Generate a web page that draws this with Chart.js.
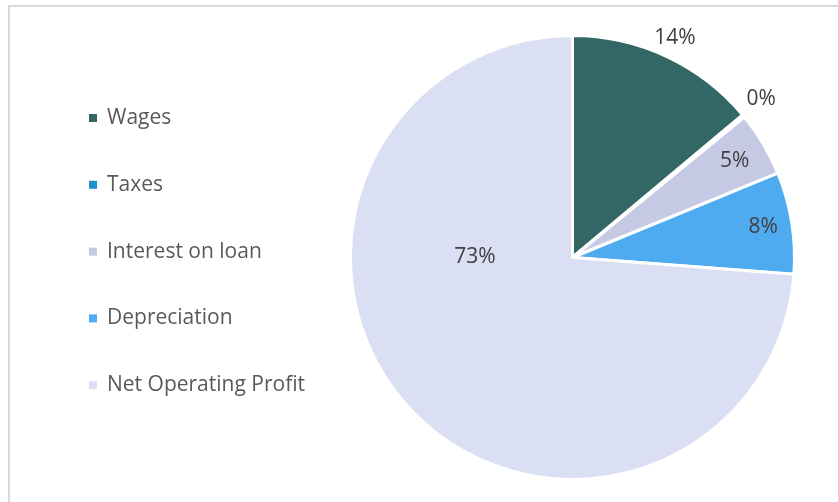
<!DOCTYPE html>
<html>
<head>
<meta charset="utf-8">
<script src="https://cdn.jsdelivr.net/npm/chart.js@4.4.1/dist/chart.umd.min.js"></script>
<style>
  html, body { margin: 0; padding: 0; background: #ffffff; }
  #wrap { position: relative; width: 838px; height: 502px; overflow: hidden; }
  #frame { position: absolute; left: 8px; top: 5px; width: 840px; height: 510px;
           border-left: 2px solid #d9d9d9; border-top: 2px solid #d9d9d9; box-sizing: border-box; }
  canvas { position: absolute; left: 0; top: 0; }
</style>
</head>
<body>
<div id="wrap">
  <div id="frame"></div>
  <canvas id="c" width="838" height="502"></canvas>
</div>
<script>
const categories = ["Wages", "Taxes", "Interest on loan", "Depreciation", "Net Operating Profit"];
const values = [13.9, 0.2, 4.7, 7.4, 73.8];
const percentLabels = ["14%", "0%", "5%", "8%", "73%"];
const colors = ["#336766", "#1f8fcf", "#c6c9e4", "#4eabf0", "#dbdff3"];

// label placement: radius factor and optional absolute angle (deg clockwise from top)
const labelPlacement = [
  { r: 1.09, a: null },
  { r: 1.11, a: 50 },
  { r: 0.85, a: null },
  { r: 0.87, a: null },
  { r: 0.44, a: 270 }
];

const FONT = "'Open Sans', sans-serif";

const customPlugin = {
  id: 'custom',
  afterDatasetsDraw(chart) {
    const ctx = chart.ctx;
    const meta = chart.getDatasetMeta(0);
    ctx.save();
    ctx.font = "21px " + FONT;
    ctx.fillStyle = "#404040";
    ctx.textAlign = "center";
    ctx.textBaseline = "middle";
    meta.data.forEach((arc, i) => {
      const p = labelPlacement[i];
      let ang;
      if (p.a === null) ang = (arc.startAngle + arc.endAngle) / 2;
      else ang = (p.a - 90) * Math.PI / 180;
      const rr = arc.outerRadius * p.r;
      const x = arc.x + Math.cos(ang) * rr;
      const y = arc.y + Math.sin(ang) * rr;
      ctx.fillText(percentLabels[i], x, y);
    });
    // legend
    ctx.textAlign = "left";
    ctx.font = "21px " + FONT;
    const ds = chart.data.datasets[0];
    chart.data.labels.forEach((lab, i) => {
      const y = 118 + i * 66.8;
      ctx.fillStyle = ds.backgroundColor[i];
      ctx.fillRect(89, y - 4, 8, 8);
      ctx.fillStyle = "#595959";
      ctx.fillText(lab, 107, y);
    });
    ctx.restore();
  }
};

new Chart(document.getElementById('c'), {
  type: 'pie',
  data: {
    labels: categories,
    datasets: [{
      data: values,
      backgroundColor: colors,
      borderColor: "#ffffff",
      borderWidth: 3
    }]
  },
  options: {
    responsive: false,
    animation: false,
    layout: { padding: { left: 349, right: 42, top: 34, bottom: 21 } },
    plugins: { legend: { display: false }, tooltip: { enabled: false } }
  },
  plugins: [customPlugin]
});
</script>
</body>
</html>
